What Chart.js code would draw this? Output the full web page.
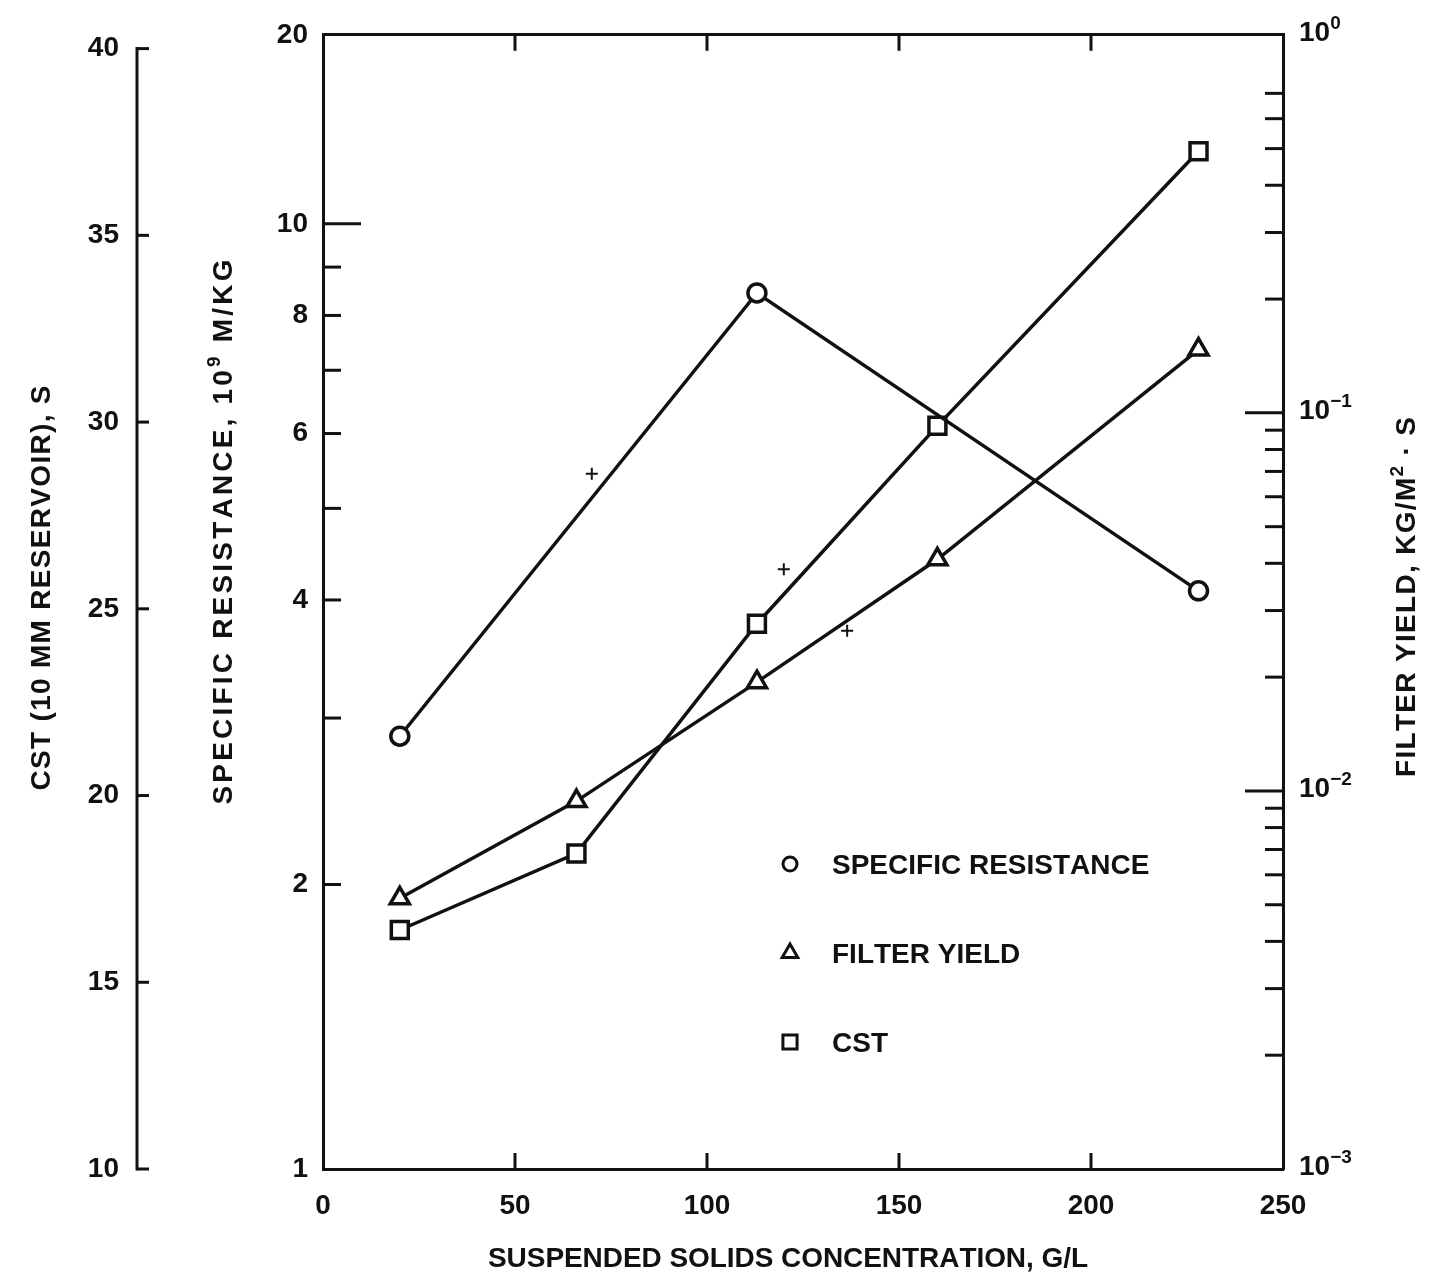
<!DOCTYPE html>
<html>
<head>
<meta charset="utf-8">
<title>Suspended solids concentration</title>
<script src="https://cdn.jsdelivr.net/npm/chart.js@4.4.1/dist/chart.umd.min.js"></script>
<style>
  html, body { margin: 0; padding: 0; background: #fff; }
  #wrap { width: 1432px; height: 1280px; }
</style>
</head>
<body>
<div id="wrap"><canvas id="solids-chart" width="1432" height="1280"></canvas></div>
<script>
// suspended solids concentration, g/L
const concentration = [20, 66, 113, 160, 228];
// specific resistance, 10^9 m/kg (measured at three concentrations only)
const specificResistance = [2.87, null, 8.45, null, 4.09];
// filter yield, kg/m2.s
const filterYield = [0.0052, 0.0094, 0.0194, 0.041, 0.147];
// capillary suction time, s
const cstSeconds = [16.4, 18.45, 24.6, 29.9, 37.25];

// little construction marks left on the sheet
const markConc = [70, 120, 136.5];
const markResistance = [5.44, 4.31, 3.71];

// axis ticks
const xTicks = [0, 50, 100, 150, 200, 250];
const srTicks = [1, 2, 3, 4, 5, 6, 7, 8, 9, 10];
const srLabels = ['1', '2', '', '4', '', '6', '', '8', '', '10'];
const srTop = 15.85;
const srTopLabel = '20';
const fyDecades = [0.001, 0.01, 0.1, 1];
const fyDecadeLabels = ['10⁻³', '10⁻²', '10⁻¹', '10⁰'];
const fyMinor = [0.002, 0.003, 0.004, 0.005, 0.006, 0.007, 0.008, 0.009,
                 0.02, 0.03, 0.04, 0.05, 0.06, 0.07, 0.08, 0.09,
                 0.2, 0.3, 0.4, 0.5, 0.6, 0.7];
const cstTicks = [10, 15, 20, 25, 30, 35, 40];

const INK = '#111';
const FONT = '"Liberation Sans", Arial, sans-serif';
const tickFont = { family: FONT, size: 28, weight: 'bold' };

// superscript characters are drawn as raised small digits
const SUP = { '⁰': '0', '¹': '1', '²': '2', '³': '3', '⁹': '9', '⁻': '−' };

function points(ys) {
  const out = [];
  ys.forEach((y, i) => { if (y !== null) out.push({ x: concentration[i], y: y }); });
  return out;
}

function series(label, ys, axis, style, radius) {
  return {
    label: label,
    data: points(ys),
    yAxisID: axis,
    borderColor: INK,
    borderWidth: 3.5,
    pointStyle: style,
    pointRadius: radius,
    pointBorderWidth: 3.5,
    pointBorderColor: INK,
    pointBackgroundColor: '#fff',
    tension: 0
  };
}

function line(ctx, x1, y1, x2, y2) {
  ctx.beginPath();
  ctx.moveTo(x1, y1);
  ctx.lineTo(x2, y2);
  ctx.stroke();
}

// y is the middle of the capitals; length (optional) spreads the letters out
function drawText(ctx, text, x, y, size, align, length, angle) {
  const chars = Array.from(text).map(ch => SUP[ch] ? { ch: SUP[ch], sup: true } : { ch: ch, sup: false });
  const fontFor = c => 'bold ' + (c.sup ? Math.round(size * 0.68) : size) + 'px ' + FONT;
  let natural = 0;
  chars.forEach(c => {
    ctx.font = fontFor(c);
    c.w = ctx.measureText(c.ch).width;
    natural += c.w;
  });
  const spacing = length ? (length - natural) / (chars.length - 1) : 0;
  const width = natural + spacing * (chars.length - 1);
  ctx.save();
  ctx.translate(x, y);
  if (angle) ctx.rotate(angle);
  ctx.textAlign = 'left';
  ctx.textBaseline = 'alphabetic';
  let cx = align === 'center' ? -width / 2 : 0;
  const base = size * 0.36;
  chars.forEach(c => {
    ctx.font = fontFor(c);
    ctx.fillText(c.ch, cx, base - (c.sup ? size * 0.42 : 0));
    cx += c.w + spacing;
  });
  ctx.restore();
}

// tick marks all point into the plot, so draw them by hand from the scales
const inwardTicks = {
  id: 'inwardTicks',
  afterDraw(chart) {
    const { ctx, chartArea: a, scales } = chart;
    ctx.save();
    ctx.strokeStyle = INK;
    ctx.lineWidth = 3;

    xTicks.slice(1, -1).forEach(v => {
      const x = scales.x.getPixelForValue(v);
      line(ctx, x, a.bottom, x, a.bottom - 16);
      line(ctx, x, a.top, x, a.top + 16);
    });

    srTicks.slice(1).forEach(v => {
      const y = scales.ySR.getPixelForValue(v);
      line(ctx, a.left, y, a.left + (v === 10 ? 38 : 18), y);
    });

    fyDecades.slice(1, -1).forEach(v => {
      const y = scales.yFY.getPixelForValue(v);
      line(ctx, a.right, y, a.right - 38, y);
    });
    fyMinor.forEach(v => {
      const y = scales.yFY.getPixelForValue(v);
      line(ctx, a.right, y, a.right - 18, y);
    });

    // CST axis stands apart, from 10 to 40 only
    const c = scales.yCST;
    const cx = c.right;
    line(ctx, cx, c.getPixelForValue(10) + 1.5, cx, c.getPixelForValue(40) - 1.5);
    cstTicks.forEach(v => {
      const y = c.getPixelForValue(v);
      line(ctx, cx, y, cx + 12, y);
    });

    // powers of ten on the filter yield axis
    ctx.fillStyle = INK;
    fyDecades.forEach((v, i) => {
      drawText(ctx, fyDecadeLabels[i], a.right + 16, scales.yFY.getPixelForValue(v) - 4, 28, 'left');
    });
    ctx.restore();
  }
};

// axis titles
const axisTitles = {
  id: 'axisTitles',
  afterDraw(chart) {
    const { ctx } = chart;
    const up = -Math.PI / 2;
    ctx.save();
    ctx.fillStyle = INK;
    drawText(ctx, 'CST (10 MM RESERVOIR), S', 40, 588, 28, 'center', 405, up);
    drawText(ctx, 'SPECIFIC RESISTANCE, 10⁹ M/KG', 222, 532, 28, 'center', 545, up);
    drawText(ctx, 'FILTER YIELD, KG/M² · S', 1405, 597, 28, 'center', 360, up);
    drawText(ctx, 'SUSPENDED SOLIDS CONCENTRATION, G/L', 788, 1257, 28, 'center', 600);
    ctx.restore();
  }
};

// legend sits inside the plot, lower right
const plotLegend = {
  id: 'plotLegend',
  afterDraw(chart) {
    const { ctx } = chart;
    const x = 790, y0 = 864, gap = 89;
    ctx.save();
    let row = 0;
    chart.data.datasets.forEach(ds => {
      if (!ds.label) return;
      const y = y0 + row * gap;
      ctx.fillStyle = '#fff';
      ctx.strokeStyle = INK;
      ctx.lineWidth = 3;
      Chart.helpers.drawPoint(ctx, {
        pointStyle: ds.pointStyle,
        radius: ds.pointRadius - 2,
        borderWidth: 3,
        rotation: 0
      }, x, y);
      ctx.fillStyle = INK;
      drawText(ctx, ds.label, x + 42, y, 28, 'left');
      row++;
    });
    ctx.restore();
  }
};

const ctx = document.getElementById('solids-chart').getContext('2d');
const solidsChart = new Chart(ctx, {
  type: 'line',
  data: {
    datasets: [
      series('SPECIFIC RESISTANCE', specificResistance, 'ySR', 'circle', 9),
      series('FILTER YIELD', filterYield, 'yFY', 'triangle', 11),
      series('CST', cstSeconds, 'yCST', 'rect', 12),
      {
        label: '',
        data: markConc.map((c, i) => ({ x: c, y: markResistance[i] })),
        yAxisID: 'ySR',
        showLine: false,
        pointStyle: 'cross',
        pointRadius: 6,
        pointBorderWidth: 2,
        pointBorderColor: INK
      }
    ]
  },
  options: {
    responsive: false,
    animation: false,
    devicePixelRatio: 1,
    layout: { padding: 0 },
    plugins: {
      legend: { display: false },
      tooltip: { enabled: false }
    },
    scales: {
      x: {
        type: 'linear',
        position: 'bottom',
        min: 0,
        max: 250,
        afterBuildTicks: s => { s.ticks = xTicks.map(v => ({ value: v })); },
        afterFit: s => { s.height = 111; },
        grid: { display: false, drawTicks: false },
        border: { display: true, color: INK, width: 3 },
        ticks: { font: tickFont, color: INK, padding: 20, maxRotation: 0, autoSkip: false }
      },
      xTop: {
        type: 'linear',
        position: 'top',
        min: 0,
        max: 250,
        afterFit: s => { s.height = 29; },
        grid: { display: false, drawTicks: false },
        border: { display: true, color: INK, width: 3 },
        ticks: { display: false }
      },
      ySR: {
        type: 'logarithmic',
        position: 'left',
        weight: 0,
        min: 1,
        max: srTop,
        afterBuildTicks: s => { s.ticks = srTicks.concat([srTop]).map(v => ({ value: v })); },
        afterFit: s => { s.width = 186; },
        grid: { display: false, drawTicks: false },
        border: { display: true, color: INK, width: 3 },
        ticks: {
          font: tickFont, color: INK, padding: 15, autoSkip: false,
          callback: v => v === srTop ? srTopLabel : (srLabels[srTicks.indexOf(v)] || '')
        }
      },
      yCST: {
        type: 'linear',
        position: 'left',
        weight: 10,
        min: 10,
        max: 40.37,
        afterBuildTicks: s => { s.ticks = cstTicks.map(v => ({ value: v })); },
        afterFit: s => { s.width = 137; },
        grid: { display: false, drawTicks: false },
        border: { display: false },
        ticks: { font: tickFont, color: INK, padding: 18, autoSkip: false }
      },
      yFY: {
        type: 'logarithmic',
        position: 'right',
        min: 0.001,
        max: 1,
        afterFit: s => { s.width = 149; },
        grid: { display: false, drawTicks: false },
        border: { display: true, color: INK, width: 3 },
        ticks: { display: false }
      }
    }
  },
  plugins: [inwardTicks, axisTitles, plotLegend]
});
</script>
</body>
</html>
